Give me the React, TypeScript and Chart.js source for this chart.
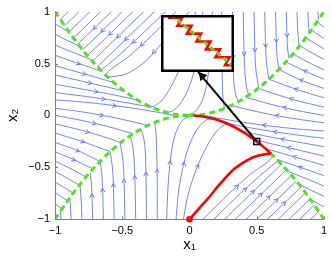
import { useEffect, useRef } from 'react';
import { Chart, registerables } from 'chart.js';

Chart.register(...registerables);

type P = [number, number];

// ---------- axes ----------
const xTickValues = [-1, -0.5, 0, 0.5, 1];
const yTickValues = [-1, -0.5, 0, 0.5, 1];
const xTitle = 'x₁';
const yTitle = 'x₂';

// ---------- streamlines ----------
const topDiagonalLines: P[][] = [
  [[-0.90, 1], [-0.961, 0.924]],
  [[-0.82, 1], [-0.929, 0.863]],
  [[-0.74, 1], [-0.897, 0.804]],
  [[-0.66, 1], [-0.863, 0.745]],
  [[-0.58, 1], [-0.830, 0.688]],
  [[-0.50, 1], [-0.795, 0.631]],
  [[-0.42, 1], [-0.759, 0.576]],
  [[-0.34, 1], [-0.722, 0.522]],
  [[-0.26, 1], [-0.685, 0.469]],
  [[-0.18, 1], [-0.38, 0.75], [-0.56, 0.54], [-0.66, 0.436]],
  [[-0.10, 1], [-0.28, 0.77], [-0.45, 0.57], [-0.58, 0.45], [-0.625, 0.39]],
  [[0.0, 1], [-0.147, 0.785], [-0.32, 0.53], [-0.47, 0.40], [-0.606, 0.368]],
];
const topMiddleLines: P[][] = [
  [[0.045, 1], [0.01, 0.76], [-0.05, 0.52], [-0.12, 0.32], [-0.19, 0.17], [-0.26, 0.09], [-0.30, 0.09]],
  [[0.10, 1], [0.08, 0.72], [0.04, 0.45], [-0.01, 0.25], [-0.07, 0.11], [-0.13, 0.04], [-0.17, 0.029]],
  [[0.17, 1], [0.16, 0.70], [0.14, 0.40], [0.11, 0.20], [0.07, 0.08], [0.03, 0.025], [-0.03, 0.001]],
  [[0.24, 1], [0.24, 0.60], [0.245, 0.30], [0.25, 0.15], [0.26, 0.0676]],
];
const topVerticalLines: P[][] = [
  [[0.32, 1], [0.323, 0.60], [0.33, 0.32], [0.345, 0.19], [0.365, 0.133]],
  [[0.40, 1], [0.405, 0.65], [0.413, 0.40], [0.425, 0.27], [0.44, 0.194]],
  [[0.48, 1], [0.485, 0.70], [0.493, 0.45], [0.515, 0.265]],
  [[0.56, 1], [0.565, 0.70], [0.573, 0.50], [0.59, 0.348]],
  [[0.64, 1], [0.645, 0.75], [0.652, 0.56], [0.665, 0.442]],
  [[0.72, 1], [0.725, 0.78], [0.73, 0.64], [0.74, 0.548]],
  [[0.80, 1], [0.805, 0.82], [0.815, 0.664]],
  [[0.88, 1], [0.885, 0.88], [0.89, 0.792]],
  [[0.955, 1], [0.96, 0.922]],
];
const bottomDiagonalLines: P[][] = [
  [[0.90, -1], [0.961, -0.924]],
  [[0.82, -1], [0.929, -0.863]],
  [[0.74, -1], [0.897, -0.804]],
  [[0.66, -1], [0.863, -0.745]],
  [[0.58, -1], [0.830, -0.688]],
  [[0.50, -1], [0.795, -0.631]],
  [[0.42, -1], [0.759, -0.576]],
  [[0.34, -1], [0.722, -0.522]],
  [[0.26, -1], [0.685, -0.469]],
  [[0.18, -1], [0.38, -0.75], [0.56, -0.54], [0.66, -0.436]],
  [[0.10, -1], [0.28, -0.77], [0.45, -0.57], [0.58, -0.45], [0.625, -0.39]],
];
const bottomMiddleLines: P[][] = [
  [[-0.045, -1], [-0.01, -0.76], [0.05, -0.52], [0.12, -0.32], [0.19, -0.17], [0.26, -0.09], [0.30, -0.09]],
  [[-0.10, -1], [-0.08, -0.72], [-0.04, -0.45], [0.01, -0.25], [0.07, -0.11], [0.13, -0.04], [0.17, -0.029]],
  [[-0.17, -1], [-0.16, -0.70], [-0.14, -0.40], [-0.11, -0.20], [-0.07, -0.08], [-0.03, -0.025], [0.03, -0.001]],
  [[-0.24, -1], [-0.24, -0.60], [-0.245, -0.30], [-0.25, -0.15], [-0.26, -0.0676]],
];
const bottomVerticalLines: P[][] = [
  [[-0.32, -1], [-0.323, -0.60], [-0.33, -0.32], [-0.345, -0.19], [-0.365, -0.133]],
  [[-0.40, -1], [-0.405, -0.65], [-0.413, -0.40], [-0.425, -0.27], [-0.44, -0.194]],
  [[-0.48, -1], [-0.485, -0.70], [-0.493, -0.45], [-0.515, -0.265]],
  [[-0.56, -1], [-0.565, -0.70], [-0.573, -0.50], [-0.59, -0.348]],
  [[-0.64, -1], [-0.645, -0.75], [-0.652, -0.56], [-0.665, -0.442]],
  [[-0.72, -1], [-0.725, -0.78], [-0.73, -0.64], [-0.74, -0.548]],
  [[-0.80, -1], [-0.805, -0.82], [-0.815, -0.664]],
  [[-0.88, -1], [-0.885, -0.88], [-0.89, -0.792]],
  [[-0.955, -1], [-0.96, -0.922]],
];
const leftUpperLines: P[][] = [
  [[-1, 0.88], [-0.95, 0.844], [-0.9, 0.808]],
  [[-1, 0.78], [-0.9, 0.717], [-0.815, 0.664]],
  [[-1, 0.68], [-0.9, 0.625], [-0.8, 0.573], [-0.735, 0.54]],
  [[-1, 0.58], [-0.9, 0.534], [-0.8, 0.489], [-0.7, 0.445], [-0.65, 0.423]],
  [[-1, 0.48], [-0.9, 0.443], [-0.8, 0.406], [-0.7, 0.369], [-0.6, 0.332], [-0.565, 0.319]],
  [[-1, 0.39], [-0.9, 0.36], [-0.8, 0.33], [-0.7, 0.30], [-0.6, 0.27], [-0.5, 0.238], [-0.48, 0.231]],
  [[-1, 0.30], [-0.8, 0.255], [-0.6, 0.207], [-0.5, 0.181], [-0.4, 0.153], [-0.39, 0.151]],
  [[-1, 0.22], [-0.8, 0.188], [-0.6, 0.151], [-0.4, 0.107], [-0.3, 0.082], [-0.28, 0.078]],
  [[-1, 0.15], [-0.8, 0.13], [-0.6, 0.102], [-0.4, 0.066], [-0.2, 0.022], [-0.12, 0.0]],
];
const leftLowerLines: P[][] = [
  [[-1, 0.07], [-0.8, 0.035], [-0.6, -0.01], [-0.4, -0.067], [-0.31, -0.096]],
  [[-1, 0.0], [-0.8, -0.048], [-0.6, -0.109], [-0.42, -0.176]],
  [[-1, -0.08], [-0.8, -0.143], [-0.6, -0.221], [-0.52, -0.258]],
  [[-1, -0.17], [-0.8, -0.249], [-0.7, -0.296], [-0.59, -0.349]],
  [[-1, -0.26], [-0.9, -0.305], [-0.8, -0.356], [-0.67, -0.44]],
  [[-1, -0.35], [-0.9, -0.403], [-0.8, -0.463], [-0.725, -0.51]],
  [[-1, -0.44], [-0.9, -0.501], [-0.77, -0.592]],
  [[-1, -0.54], [-0.9, -0.61], [-0.82, -0.672]],
  [[-1, -0.64], [-0.865, -0.748]],
  [[-1, -0.74], [-0.905, -0.824]],
  [[-1, -0.85], [-0.95, -0.9]],
];
const rightLowerLines: P[][] = [
  [[1, -0.88], [0.95, -0.844], [0.9, -0.808]],
  [[1, -0.78], [0.9, -0.717], [0.815, -0.664]],
  [[1, -0.68], [0.9, -0.625], [0.8, -0.573], [0.735, -0.54]],
  [[1, -0.58], [0.9, -0.534], [0.8, -0.489], [0.7, -0.445], [0.65, -0.423]],
  [[1, -0.48], [0.9, -0.443], [0.8, -0.406], [0.7, -0.369], [0.6, -0.332], [0.565, -0.319]],
  [[1, -0.39], [0.9, -0.36], [0.8, -0.33], [0.7, -0.30], [0.6, -0.27], [0.5, -0.238], [0.48, -0.231]],
  [[1, -0.30], [0.8, -0.255], [0.6, -0.207], [0.5, -0.181], [0.4, -0.153], [0.39, -0.151]],
  [[1, -0.22], [0.8, -0.188], [0.6, -0.151], [0.4, -0.107], [0.3, -0.082], [0.28, -0.078]],
  [[1, -0.15], [0.8, -0.13], [0.6, -0.102], [0.4, -0.066], [0.2, -0.022], [0.12, 0.0]],
];
const rightUpperLines: P[][] = [
  [[1, -0.07], [0.8, -0.035], [0.6, 0.01], [0.4, 0.067], [0.31, 0.096]],
  [[1, 0.0], [0.8, 0.048], [0.6, 0.109], [0.42, 0.176]],
  [[1, 0.08], [0.8, 0.143], [0.6, 0.221], [0.52, 0.258]],
  [[1, 0.17], [0.8, 0.249], [0.7, 0.296], [0.59, 0.349]],
  [[1, 0.26], [0.9, 0.305], [0.8, 0.356], [0.67, 0.44]],
  [[1, 0.35], [0.9, 0.403], [0.8, 0.463], [0.725, 0.51]],
  [[1, 0.44], [0.9, 0.501], [0.77, 0.592]],
  [[1, 0.54], [0.9, 0.61], [0.82, 0.672]],
  [[1, 0.64], [0.865, 0.748]],
  [[1, 0.74], [0.905, 0.824]],
  [[1, 0.85], [0.95, 0.9]],
];

// ---------- switching curves (green dashed) ----------
const switchUpperLeft: P[] = [[-1, 1], [-0.9, 0.81], [-0.8, 0.64], [-0.7, 0.49], [-0.6, 0.36], [-0.5, 0.25], [-0.4, 0.16], [-0.3, 0.09], [-0.2, 0.04], [-0.1, 0.01], [0, 0]];
const switchLowerLeft: P[] = [[-1, -1], [-0.9, -0.81], [-0.8, -0.64], [-0.7, -0.49], [-0.6, -0.36], [-0.5, -0.25], [-0.4, -0.16], [-0.3, -0.09], [-0.2, -0.04], [-0.1, -0.01], [0, 0]];
const switchUpperRight: P[] = [[0, 0], [0.1, 0.01], [0.2, 0.04], [0.3, 0.09], [0.4, 0.16], [0.5, 0.25], [0.6, 0.36], [0.7, 0.49], [0.8, 0.64], [0.9, 0.81], [1, 1]];
const switchLowerRight: P[] = [[0.6, -0.36], [0.7, -0.49], [0.8, -0.64], [0.9, -0.81], [1, -1]];

// ---------- trajectory (red) ----------
const trajectoryReaching: P[] = [[0, -1], [0.075, -0.89], [0.147, -0.785], [0.23, -0.655], [0.32, -0.53], [0.40, -0.455], [0.47, -0.405], [0.54, -0.378], [0.606, -0.367]];
const trajectorySliding: P[] = [[0.606, -0.367], [0.55, -0.3025], [0.5, -0.25], [0.4, -0.16], [0.3, -0.09], [0.2, -0.04], [0.1, -0.01], [0.03, -0.001]];
const initialState: P[] = [[0, -1]];
const zoomMarker: P[] = [[0.5, -0.25]];
const zoomPointer: P[] = [[0.5, -0.25], [0.064, 0.42]];
const zoomPointerHead: P[] = [[0.095, 0.378]];

// ---------- inset (chattering detail) ----------
const insetZigzag: P[] = [[7, 2.8], [21, 2.8], [16.5, 10.7], [30.5, 10.7], [26, 18.6], [40, 18.6], [35.5, 26.5], [49.5, 26.5], [45, 34.4], [59, 34.4], [54.5, 42.3], [68.5, 42.3], [64, 50.2], [78, 50.2]];
const insetSurface: P[] = [[10, -0.5], [72, 51]];

const BLUE = 'rgb(98,118,255)';
const GREEN = 'rgb(78,226,32)';
const RED = 'rgb(255,0,0)';
const AXIS = '#7f7f7f';
const FONT = "'Liberation Sans', Arial, Helvetica, sans-serif";

const toXY = (pts: P[]) => pts.map(([x, y]) => ({ x, y }));

const fmt = (v: any) => {
  const n = Number(v);
  return n < 0 ? '−' + String(-n) : String(n);
};

const arrowPlugin = {
  id: 'streamArrows',
  afterDatasetDraw(chart: any, args: any) {
    const ds: any = chart.data.datasets[args.index];
    if (!ds.arrow) return;
    const pts = args.meta.data.map((e: any) => [e.x, e.y]);
    const lens: number[] = [];
    let total = 0;
    for (let i = 1; i < pts.length; i++) {
      const l = Math.hypot(pts[i][0] - pts[i - 1][0], pts[i][1] - pts[i - 1][1]);
      lens.push(l);
      total += l;
    }
    if (total < 40) return;
    let target = total * 0.5;
    let k = 0;
    while (k < lens.length - 1 && target > lens[k]) {
      target -= lens[k];
      k++;
    }
    const a = pts[k];
    const b = pts[k + 1];
    const len = lens[k] || 1;
    const t = target / len;
    const px = a[0] + (b[0] - a[0]) * t;
    const py = a[1] + (b[1] - a[1]) * t;
    const ux = (b[0] - a[0]) / len;
    const uy = (b[1] - a[1]) / len;
    const ctx = chart.ctx;
    ctx.save();
    ctx.strokeStyle = ds.borderColor;
    ctx.lineWidth = 1;
    const L = 4.5;
    const ang = 0.5;
    const tx = px + ux * 2;
    const ty = py + uy * 2;
    ctx.beginPath();
    for (const s of [1, -1]) {
      const c = Math.cos(ang);
      const sn = Math.sin(ang) * s;
      const rx = -(ux * c - uy * sn);
      const ry = -(ux * sn + uy * c);
      ctx.moveTo(tx + rx * L, ty + ry * L);
      ctx.lineTo(tx, ty);
    }
    ctx.stroke();
    ctx.restore();
  },
};

const innerTicks = {
  id: 'innerTicks',
  afterDraw(chart: any) {
    const { ctx, chartArea, scales } = chart;
    ctx.save();
    ctx.strokeStyle = AXIS;
    ctx.lineWidth = 1;
    ctx.beginPath();
    xTickValues.forEach((v) => {
      const px = Math.round(scales.x.getPixelForValue(v)) + 0.5;
      ctx.moveTo(px, chartArea.bottom);
      ctx.lineTo(px, chartArea.bottom - 3);
    });
    yTickValues.forEach((v) => {
      const py = Math.round(scales.y.getPixelForValue(v)) + 0.5;
      ctx.moveTo(chartArea.left, py);
      ctx.lineTo(chartArea.left + 3, py);
    });
    ctx.stroke();
    ctx.restore();
  },
};

const insetFrame = {
  id: 'insetFrame',
  beforeDraw(chart: any) {
    const ctx = chart.ctx;
    ctx.save();
    ctx.fillStyle = '#ffffff';
    ctx.fillRect(0, 0, chart.width, chart.height);
    ctx.restore();
  },
  afterDraw(chart: any) {
    const ctx = chart.ctx;
    ctx.save();
    ctx.strokeStyle = '#000';
    ctx.lineWidth = 2.5;
    ctx.strokeRect(1.25, 1.25, chart.width - 2.5, chart.height - 2.5);
    ctx.restore();
  },
};

export default function App() {
  const mainRef = useRef<HTMLCanvasElement>(null);
  const insetRef = useRef<HTMLCanvasElement>(null);

  useEffect(() => {
    const families = [
      topDiagonalLines, topMiddleLines, topVerticalLines,
      bottomDiagonalLines, bottomMiddleLines, bottomVerticalLines,
      leftUpperLines, leftLowerLines, rightLowerLines, rightUpperLines,
    ];
    const streamSets: any[] = [];
    families.forEach((fam) =>
      fam.forEach((line) =>
        streamSets.push({
          data: toXY(line),
          showLine: true,
          borderColor: BLUE,
          borderWidth: 0.9,
          pointRadius: 0,
          tension: 0.3,
          order: 10,
          arrow: true,
        })
      )
    );
    const green = (pts: P[]) => ({
      data: toXY(pts),
      showLine: true,
      borderColor: GREEN,
      borderWidth: 3,
      borderDash: [6, 4],
      pointRadius: 0,
      tension: 0.3,
      order: 6,
    });
    const datasets: any[] = [
      ...streamSets,
      green(switchUpperLeft),
      green(switchLowerLeft),
      green(switchUpperRight),
      green(switchLowerRight),
      { data: toXY(trajectoryReaching), showLine: true, borderColor: RED, borderWidth: 2.6, pointRadius: 0, tension: 0.3, order: 4 },
      { data: toXY(trajectorySliding), showLine: true, borderColor: RED, borderWidth: 2.6, pointRadius: 0, tension: 0.3, order: 4 },
      { data: toXY(zoomPointer), showLine: true, borderColor: '#000', borderWidth: 2, pointRadius: 0, order: 3 },
      { data: toXY(zoomPointerHead), showLine: false, pointStyle: 'triangle', pointRadius: 4.5, pointRotation: -40, pointBackgroundColor: '#000', pointBorderColor: '#000', pointBorderWidth: 1, order: 3 },
      { data: toXY(zoomMarker), showLine: false, pointStyle: 'rect', pointRadius: 4.2, pointBackgroundColor: 'rgba(0,0,0,0)', pointBorderColor: '#000', pointBorderWidth: 1.5, order: 2 },
      { data: toXY(initialState), showLine: false, pointStyle: 'circle', pointRadius: 3.3, pointBackgroundColor: RED, pointBorderColor: RED, pointBorderWidth: 0, clip: false, order: 1 },
    ];

    const main = new Chart(mainRef.current as HTMLCanvasElement, {
      type: 'scatter',
      data: { datasets },
      options: {
        animation: false,
        responsive: false,
        maintainAspectRatio: false,
        events: [],
        layout: { padding: { top: 11, right: 7.5, left: 0, bottom: 0 } },
        plugins: { legend: { display: false }, tooltip: { enabled: false } },
        scales: {
          x: {
            type: 'linear',
            min: -1,
            max: 1,
            afterBuildTicks: (s: any) => { s.ticks = xTickValues.map((v) => ({ value: v })); },
            afterFit: (s: any) => { s.height = 40.7; },
            grid: { display: false, drawTicks: false },
            border: { display: true, color: AXIS, width: 1 },
            ticks: { padding: 5, color: '#000', font: { family: FONT, size: 11 }, callback: fmt, maxRotation: 0, autoSkip: false },
            title: { display: true, text: xTitle, color: '#000', font: { family: FONT, size: 15 }, padding: { top: 0, bottom: 6 } },
          },
          y: {
            type: 'linear',
            min: -1,
            max: 1,
            afterBuildTicks: (s: any) => { s.ticks = yTickValues.map((v) => ({ value: v })); },
            afterFit: (s: any) => { s.width = 55; },
            grid: { display: false, drawTicks: false },
            border: { display: true, color: AXIS, width: 1 },
            ticks: { padding: 5, color: '#000', font: { family: FONT, size: 11 }, callback: fmt, autoSkip: false },
            title: { display: true, text: yTitle, color: '#000', font: { family: FONT, size: 15 }, padding: { top: 4, bottom: 0 } },
          },
        },
      } as any,
      plugins: [arrowPlugin, innerTicks],
    });

    const inset = new Chart(insetRef.current as HTMLCanvasElement, {
      type: 'scatter',
      data: {
        datasets: [
          { data: toXY(insetSurface), showLine: true, borderColor: GREEN, borderWidth: 3, borderDash: [5, 3.5], pointRadius: 0, order: 1 },
          { data: toXY(insetZigzag), showLine: true, borderColor: RED, borderWidth: 2.6, pointRadius: 0, tension: 0, order: 2 },
        ],
      },
      options: {
        animation: false,
        responsive: false,
        maintainAspectRatio: false,
        events: [],
        layout: { padding: 0 },
        plugins: { legend: { display: false }, tooltip: { enabled: false } },
        scales: {
          x: { type: 'linear', min: 0, max: 73, display: false },
          y: { type: 'linear', min: 0, max: 57, reverse: true, display: false },
        },
      } as any,
      plugins: [insetFrame],
    });

    return () => {
      main.destroy();
      inset.destroy();
    };
  }, []);

  return (
    <div style={{ position: 'absolute', left: 0, top: 0, width: 332, height: 260, background: '#fff' }}>
      <canvas ref={mainRef} width={332} height={260} style={{ position: 'absolute', left: 0, top: 0 }} />
      <canvas ref={insetRef} width={73} height={57} style={{ position: 'absolute', left: 161, top: 15 }} />
    </div>
  );
}
